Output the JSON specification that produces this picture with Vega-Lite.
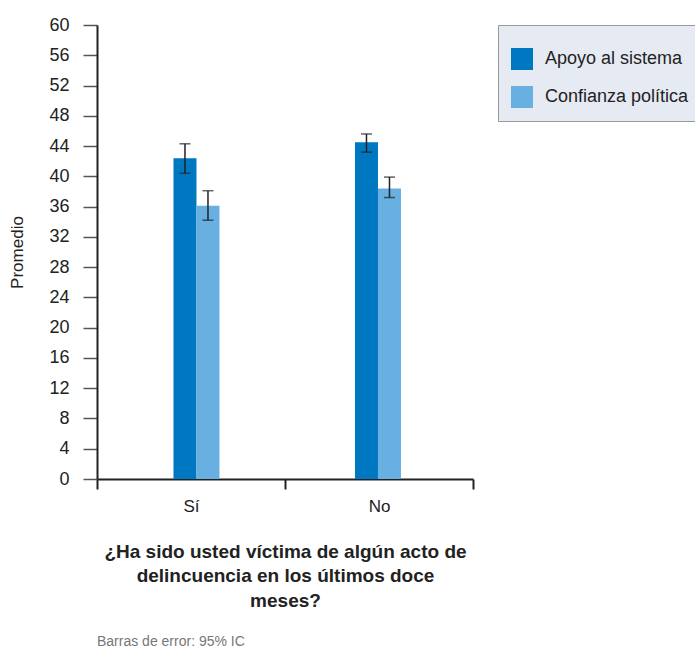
{
  "$schema": "https://vega.github.io/schema/vega-lite/v6.json",
  "width": 376,
  "height": 454,
  "autosize": "none",
  "padding": {"left": 97, "top": 25, "right": 222, "bottom": 169},
  "background": "white",
  "config": {"view": {"stroke": null}, "font": "Liberation Sans"},
  "title": {
    "text": "Barras de error: 95% IC",
    "orient": "bottom",
    "anchor": "start",
    "frame": "group",
    "fontSize": 14,
    "fontWeight": "normal",
    "color": "#777777",
    "font": "Liberation Sans",
    "offset": 25
  },
  "data": {
    "values": [
      {"grupo": "Sí", "serie": "Apoyo al sistema", "valor": 42.4, "lo": 40.4, "hi": 44.3},
      {"grupo": "Sí", "serie": "Confianza política", "valor": 36.1, "lo": 34.2, "hi": 38.1},
      {"grupo": "No", "serie": "Apoyo al sistema", "valor": 44.5, "lo": 43.2, "hi": 45.6},
      {"grupo": "No", "serie": "Confianza política", "valor": 38.4, "lo": 37.2, "hi": 39.9}
    ]
  },
  "resolve": {"scale": {"x": "independent"}, "axis": {"x": "independent"}},
  "layer": [
    {
      "mark": {"type": "rule", "opacity": 0},
      "encoding": {
        "x": {
          "field": "grupo",
          "type": "nominal",
          "sort": ["Sí", "No"],
          "scale": {"paddingInner": 0, "paddingOuter": 0},
          "axis": {
            "title": ["¿Ha sido usted víctima de algún acto de", "delincuencia en los últimos doce", "meses?"],
            "titleFontSize": 19,
            "titleFontWeight": "bold",
            "titleColor": "#222222",
            "titleLineHeight": 24.5,
            "titlePadding": 28,
            "labelAngle": 0,
            "labelFontSize": 17,
            "labelColor": "#222222",
            "labelPadding": 9,
            "tickBand": "extent",
            "tickSize": 10,
            "tickColor": "#222222",
            "tickWidth": 2,
            "domainColor": "#222222",
            "domainWidth": 2
          }
        }
      }
    },
    {
      "encoding": {
        "x": {
          "field": "grupo",
          "type": "nominal",
          "sort": ["Sí", "No"],
          "scale": {"paddingInner": 0.7466, "paddingOuter": 0.4091, "align": 0.515},
          "axis": null
        },
        "xOffset": {
          "field": "serie",
          "type": "nominal",
          "scale": {"paddingInner": 0, "paddingOuter": 0}
        }
      },
      "layer": [
        {
          "mark": {"type": "bar"},
          "encoding": {
            "y": {
              "field": "valor",
              "type": "quantitative",
              "scale": {"domain": [0, 60], "nice": false},
              "axis": {
                "title": "Promedio",
                "titleFontSize": 17,
                "titleFontWeight": "normal",
                "titleColor": "#222222",
                "titlePadding": 22,
                "values": [0, 4, 8, 12, 16, 20, 24, 28, 32, 36, 40, 44, 48, 52, 56, 60],
                "tickCount": 20,
                "labelOverlap": false,
                "labelFontSize": 18,
                "labelColor": "#222222",
                "labelPadding": 14,
                "tickSize": 14,
                "tickColor": "#555555",
                "tickWidth": 1.5,
                "domainColor": "#222222",
                "domainWidth": 2,
                "grid": false
              }
            },
            "color": {
              "field": "serie",
              "type": "nominal",
              "scale": {"domain": ["Apoyo al sistema", "Confianza política"], "range": ["#0078c1", "#68afe2"]},
              "legend": {
                "orient": "none",
                "legendX": 401,
                "legendY": 0,
                "title": " ",
                "titleFontSize": 4,
                "titlePadding": 6,
                "padding": 13,
                "fillColor": "#e6eaf3",
                "strokeColor": "#999999",
                "symbolType": "square",
                "symbolSize": 484,
                "symbolStrokeWidth": 0,
                "symbolOpacity": 1,
                "labelFontSize": 18,
                "labelColor": "#222222",
                "labelOffset": 12,
                "rowPadding": 16,
                "labelLimit": 300
              }
            }
          }
        },
        {
          "mark": {"type": "rule", "color": "#222222", "strokeWidth": 1.5},
          "encoding": {
            "y": {"field": "lo", "type": "quantitative"},
            "y2": {"field": "hi"}
          }
        },
        {
          "mark": {"type": "tick", "color": "#222222", "thickness": 1.5, "size": 11, "orient": "horizontal"},
          "encoding": {
            "y": {"field": "lo", "type": "quantitative"}
          }
        },
        {
          "mark": {"type": "tick", "color": "#222222", "thickness": 1.5, "size": 11, "orient": "horizontal"},
          "encoding": {
            "y": {"field": "hi", "type": "quantitative"}
          }
        }
      ]
    }
  ]
}
